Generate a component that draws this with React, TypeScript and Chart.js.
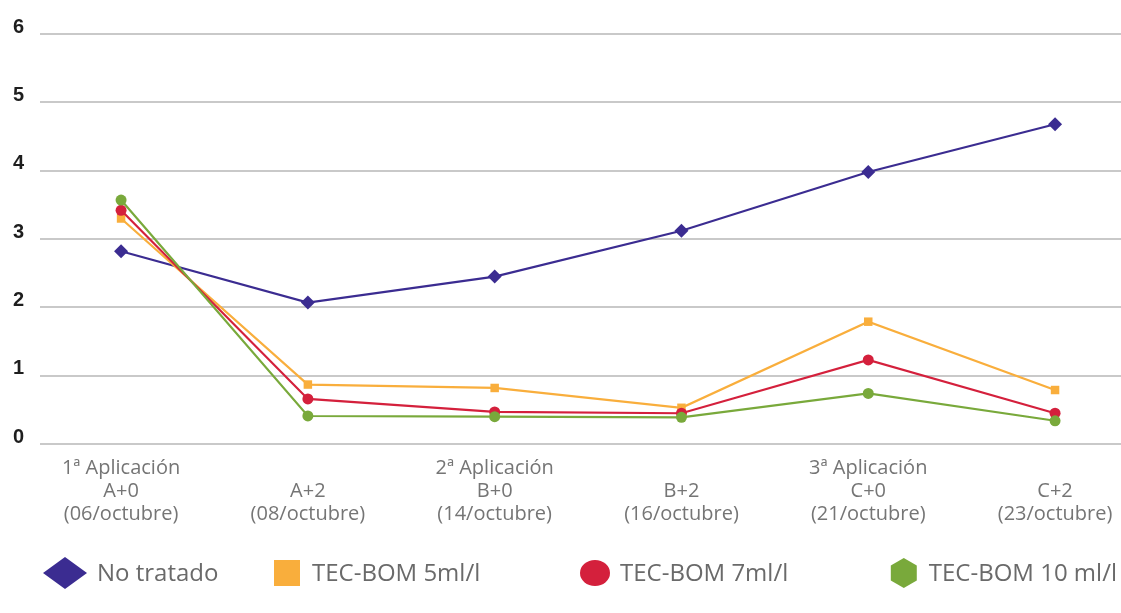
import React, { useEffect, useRef } from 'react';
import { Chart, registerables } from 'chart.js';

Chart.register(...registerables);

const categories: string[][] = [
  ['1ª Aplicación', 'A+0', '(06/octubre)'],
  ['', 'A+2', '(08/octubre)'],
  ['2ª Aplicación', 'B+0', '(14/octubre)'],
  ['', 'B+2', '(16/octubre)'],
  ['3ª Aplicación', 'C+0', '(21/octubre)'],
  ['', 'C+2', '(23/octubre)'],
];

const noTratado = [2.82, 2.07, 2.45, 3.12, 3.98, 4.68];
const tecBom5 = [3.3, 0.87, 0.82, 0.53, 1.79, 0.79];
const tecBom7 = [3.42, 0.66, 0.47, 0.45, 1.23, 0.45];
const tecBom10 = [3.57, 0.41, 0.4, 0.39, 0.74, 0.34];

const seriesNames = ['No tratado', 'TEC-BOM 5ml/l', 'TEC-BOM 7ml/l', 'TEC-BOM 10 ml/l'];
const seriesColors = ['#3B2C91', '#F9AE3C', '#D4203C', '#79A93B'];
const yTicks = [0, 1, 2, 3, 4, 5, 6];

const FONT = '"Open Sans", "Liberation Sans", Arial, sans-serif';

function toPoints(values: number[]) {
  return values.map((v, i) => ({ x: i, y: v }));
}

const legendPlugin = {
  id: 'customLegend',
  afterDraw(chart: any) {
    const ctx: CanvasRenderingContext2D = chart.ctx;
    const cy = 573;
    const markerX = [65, 287, 595, 918];
    ctx.save();
    ctx.font = `24px ${FONT}`;
    ctx.textBaseline = 'middle';
    ctx.textAlign = 'left';
    chart.data.datasets.forEach((ds: any, i: number) => {
      let mx = markerX[i];
      const textW = ctx.measureText(ds.label).width;
      const gap = i === 0 ? 32 : 25;
      const maxRight = chart.width - 4;
      if (mx + gap + textW > maxRight) mx = maxRight - gap - textW;
      ctx.fillStyle = ds.borderColor;
      ctx.beginPath();
      if (i === 0) {
        ctx.moveTo(mx, cy - 16);
        ctx.lineTo(mx + 22, cy);
        ctx.lineTo(mx, cy + 16);
        ctx.lineTo(mx - 22, cy);
        ctx.closePath();
      } else if (i === 1) {
        ctx.rect(mx - 13, cy - 13, 26, 26);
      } else if (i === 2) {
        ctx.ellipse(mx, cy, 15, 13, 0, 0, Math.PI * 2);
      } else {
        for (let k = 0; k < 6; k++) {
          const a = -Math.PI / 2 + (k * Math.PI) / 3;
          const px = mx + 15 * Math.cos(a);
          const py = cy + 15 * Math.sin(a);
          if (k === 0) ctx.moveTo(px, py);
          else ctx.lineTo(px, py);
        }
        ctx.closePath();
      }
      ctx.fill();
      ctx.fillStyle = '#6a6a6a';
      ctx.fillText(ds.label, mx + gap, cy + 1);
    });
    ctx.restore();
  },
};

export default function App() {
  const canvasRef = useRef<HTMLCanvasElement | null>(null);

  useEffect(() => {
    document.body.style.margin = '0';
    const canvas = canvasRef.current;
    if (!canvas) return;
    const pointStyles = ['rectRot', 'rect', 'circle', 'circle'];
    const radii = [7, 6, 5.5, 5.5];
    const series = [noTratado, tecBom5, tecBom7, tecBom10];
    const chart = new Chart(canvas, {
      type: 'line',
      data: {
        datasets: series.map((vals, i) => ({
          label: seriesNames[i],
          data: toPoints(vals),
          borderColor: seriesColors[i],
          backgroundColor: seriesColors[i],
          pointBackgroundColor: seriesColors[i],
          pointBorderColor: seriesColors[i],
          pointStyle: pointStyles[i] as any,
          pointRadius: radii[i],
          pointBorderWidth: 0,
          borderWidth: 2.2,
          tension: 0,
          clip: false as any,
          order: 3 - i,
        })),
      },
      options: {
        animation: false,
        responsive: false,
        maintainAspectRatio: false,
        layout: { autoPadding: false, padding: { top: 34, left: 0, right: 0, bottom: 0 } },
        plugins: {
          legend: { display: false },
          tooltip: { enabled: false },
        },
        scales: {
          x: {
            type: 'linear',
            min: -0.434,
            max: 5.353,
            grid: { display: false },
            border: { display: false },
            afterBuildTicks: (scale: any) => {
              scale.ticks = categories.map((_, i) => ({ value: i }));
            },
            afterFit: (scale: any) => {
              scale.height = 169;
              scale.paddingLeft = 0;
              scale.paddingRight = 0;
            },
            ticks: {
              autoSkip: false,
              maxRotation: 0,
              color: '#757575',
              padding: 5,
              font: { family: FONT, size: 20, lineHeight: 1.15 },
              callback: (v: any) => categories[Math.round(Number(v))] ?? '',
            },
          },
          y: {
            min: 0,
            max: 6,
            afterBuildTicks: (scale: any) => {
              scale.ticks = yTicks.map((v) => ({ value: v }));
            },
            afterFit: (scale: any) => {
              scale.width = 40;
            },
            border: { display: false },
            grid: { color: '#c9c9c9', lineWidth: 2, drawTicks: false },
            ticks: {
              color: '#1e1e1e',
              padding: 16,
              labelOffset: -7,
              font: { family: '"Liberation Sans", Arial, sans-serif', size: 20, weight: 'bold' },
            },
          },
        },
      },
      plugins: [legendPlugin],
    });
    return () => chart.destroy();
  }, []);

  return (
    <div style={{ width: 1121, height: 613, background: '#fff' }}>
      <canvas ref={canvasRef} width={1121} height={613} style={{ display: 'block' }} />
    </div>
  );
}
